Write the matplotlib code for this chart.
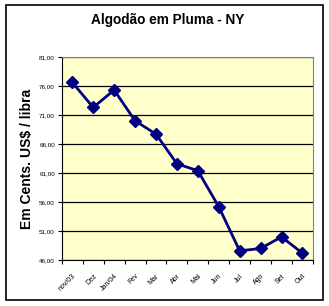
import numpy as np
import matplotlib.pyplot as plt
from matplotlib.patches import Rectangle

months = ['nov/03', 'Dez', 'Jan/04', 'Fev', 'Mar', 'Abr', 'Mai', 'Jun', 'Jul', 'Ago', 'Set', 'Out']
prices = [76.6, 72.3, 75.3, 70.0, 67.7, 62.6, 61.4, 55.2, 47.6, 48.0, 50.0, 47.2]
yticks = [46, 51, 56, 61, 66, 71, 76, 81]

plt.rcParams['font.family'] = ['Liberation Sans', 'DejaVu Sans']

fig = plt.figure(figsize=(3.29, 3.06), dpi=100)
ax = fig.add_axes([0.188, 0.150, 0.763, 0.664])
ax.set_facecolor('#ffffcc')

x = np.arange(len(months))
ax.plot(x, prices, color='#000080', lw=2.0, marker='D', ms=6.5, mec='#000080', mfc='#000080', zorder=3)

ax.set_xlim(-0.5, len(months) - 0.5)
ax.set_ylim(46, 81)
ax.set_yticks(yticks)
ax.set_yticklabels([f'{v:.2f}'.replace('.', ',') for v in yticks], fontsize=4.5)
ax.grid(axis='y', color='black', lw=0.9)
ax.set_axisbelow(True)

# category ticks between points, labels at centers
ax.set_xticks(np.arange(-0.5, len(months), 1.0))
ax.set_xticklabels([])
ax.set_xticks(x, minor=True)
ax.set_xticklabels(months, minor=True, rotation=45, ha='right', rotation_mode='anchor', fontsize=5)
ax.tick_params(axis='x', which='minor', length=0, pad=9)
ax.tick_params(axis='x', which='major', length=3, width=0.8)
ax.tick_params(axis='y', length=3, width=0.8, pad=2)

for s in ['top', 'right']:
    ax.spines[s].set_color('#808080')
for s in ['left', 'bottom']:
    ax.spines[s].set_color('black')

ax.set_ylabel('Em Cents. US$ / libra', fontsize=10, fontweight='bold', labelpad=4)
fig.text(0.51, 0.935, 'Algodão em Pluma - NY', ha='center', va='center', fontsize=9.8, fontweight='bold')

fig.patches.append(Rectangle((6 / 329, 1 - 300 / 306), 317 / 329, 295 / 306, transform=fig.transFigure,
                             fill=False, edgecolor='black', lw=1.2))

fig.savefig('out.png', dpi=100)
